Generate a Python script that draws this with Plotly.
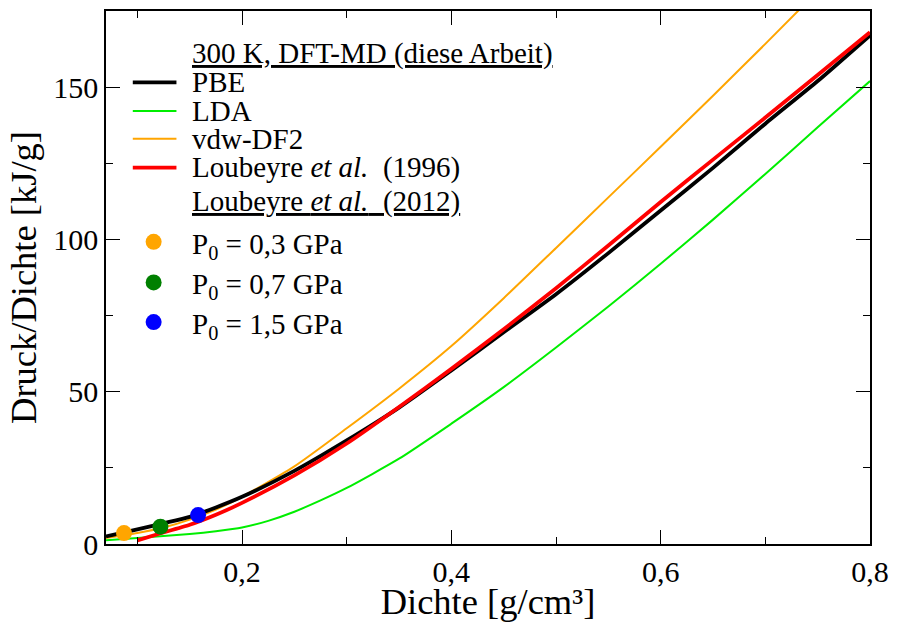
import plotly.graph_objects as go

# ---- data ----
pbe_x = [0.07, 0.1, 0.125, 0.15, 0.175, 0.2, 0.25, 0.3, 0.35, 0.4, 0.45, 0.5, 0.55, 0.6, 0.65, 0.7, 0.75, 0.8]
pbe_y = [2.5, 4.8, 6.8, 8.9, 12.0, 15.5, 24.0, 34.0, 44.8, 57.0, 69.5, 82.0, 95.5, 109.5, 123.5, 138.0, 152.0, 167.0]

lda_x = [0.07, 0.1, 0.15, 0.175, 0.2, 0.225, 0.25, 0.275, 0.3, 0.35, 0.4, 0.45, 0.5, 0.55, 0.6, 0.65, 0.7, 0.75, 0.8]
lda_y = [1.2, 2.0, 3.3, 4.2, 5.4, 7.6, 10.6, 14.3, 18.4, 28.0, 39.5, 51.5, 64.5, 78.0, 92.0, 106.5, 121.5, 136.8, 152.0]

vdw_x = [0.07, 0.1, 0.125, 0.15, 0.175, 0.2, 0.25, 0.3, 0.35, 0.4, 0.45, 0.5, 0.55, 0.6, 0.65, 0.7, 0.75]
vdw_y = [2.0, 3.6, 5.4, 8.0, 11.3, 15.5, 25.5, 38.0, 51.0, 65.0, 80.7, 97.2, 113.8, 130.4, 147.2, 164.2, 181.5]

lou96_x = [0.1, 0.12, 0.15, 0.175, 0.2, 0.25, 0.3, 0.35, 0.4, 0.45, 0.5, 0.55, 0.6, 0.65, 0.7, 0.75, 0.8]
lou96_y = [1.2, 3.3, 6.3, 9.6, 13.5, 22.5, 33.0, 45.0, 57.5, 70.5, 84.0, 98.0, 112.3, 126.2, 140.0, 154.0, 168.0]

pts_x = [0.0872, 0.122, 0.158]
pts_y = [3.6, 5.7, 9.5]
pts_labels = ["P<sub>0</sub> = 0,3 GPa", "P<sub>0</sub> = 0,7 GPa", "P<sub>0</sub> = 1,5 GPa"]
pts_colors = ["#ffa500", "#008000", "#0000ff"]

x_ticks = [0.2, 0.4, 0.6, 0.8]
x_ticktext = ["0,2", "0,4", "0,6", "0,8"]
y_ticks = [0, 50, 100, 150]
y_ticktext = ["0", "50", "100", "150"]

line_names = ["PBE", "LDA", "vdw-DF2", "Loubeyre <i>et al.</i>  (1996)"]
line_colors = ["#000000", "#00ee00", "#ffa500", "#ff0000"]
line_widths = [3.8, 2, 2, 3.8]

FONT = "Liberation Serif"
LEG_SIZE = 29

fig = go.Figure()
series = [(pbe_x, pbe_y), (lda_x, lda_y), (vdw_x, vdw_y), (lou96_x, lou96_y)]
order = [1, 2, 0, 3]
for i in order:
    xs, ys = series[i]
    fig.add_trace(go.Scatter(x=xs, y=ys, mode="lines", name=line_names[i],
                             line=dict(color=line_colors[i], width=line_widths[i], shape="spline", smoothing=0.6),
                             showlegend=False))
for i in range(len(pts_x)):
    fig.add_trace(go.Scatter(x=[pts_x[i]], y=[pts_y[i]], mode="markers", name=pts_labels[i],
                             marker=dict(color=pts_colors[i], size=16, line=dict(width=0)),
                             showlegend=False))

# ---- plot area geometry (pixels) ----
W, H = 898, 622
L, R, T, B = 106, 22, 9, 75
pw, ph = W - L - R, H - T - B

def px(x):
    return (x - L) / pw

def py(y):
    return (H - B - y) / ph

annotations = []
shapes = []
text_x = px(191)
annotations.append(dict(x=text_x, y=py(52), xref="paper", yref="paper", xanchor="left", yanchor="middle",
                        text="<u>300 K, DFT-MD (diese Arbeit)</u>", showarrow=False,
                        font=dict(family=FONT, size=LEG_SIZE, color="black")))
row_y = [81, 110, 138, 167]
for k in range(4):
    shapes.append(dict(type="line", xref="paper", yref="paper", x0=px(133), x1=px(177),
                       y0=py(row_y[k]), y1=py(row_y[k]),
                       line=dict(color=line_colors[k], width=line_widths[k])))
    annotations.append(dict(x=text_x, y=py(row_y[k]), xref="paper", yref="paper", xanchor="left",
                            yanchor="middle", text=line_names[k], showarrow=False,
                            font=dict(family=FONT, size=LEG_SIZE, color="black")))
annotations.append(dict(x=text_x, y=py(201), xref="paper", yref="paper", xanchor="left", yanchor="middle",
                        text="<u>Loubeyre <i>et al.</i>  (2012)</u>", showarrow=False,
                        font=dict(family=FONT, size=LEG_SIZE, color="black")))
pt_row_y = [242, 283, 323]
for k in range(3):
    fig.add_trace(go.Scatter(x=[px(154)], y=[py(pt_row_y[k])], xaxis="x2", yaxis="y2", mode="markers",
                             marker=dict(color=pts_colors[k], size=16), showlegend=False, hoverinfo="skip"))
    annotations.append(dict(x=text_x, y=py(pt_row_y[k] + 4), xref="paper", yref="paper", xanchor="left",
                            yanchor="middle", text=pts_labels[k], showarrow=False,
                            font=dict(family=FONT, size=LEG_SIZE, color="black")))

axis_common = dict(showgrid=False, zeroline=False, showline=True, linecolor="black", linewidth=1.5,
                   mirror="allticks", ticks="inside", ticklen=14, tickwidth=1.2, tickcolor="black",
                   tickfont=dict(family=FONT, size=30, color="black"))

fig.update_layout(
    width=W, height=H,
    margin=dict(l=L, r=R, t=T, b=B),
    paper_bgcolor="white", plot_bgcolor="white",
    showlegend=False,
    xaxis=dict(range=[0.07, 0.8], tickvals=x_ticks, ticktext=x_ticktext,
               minor=dict(dtick=0.1, tick0=0, ticks="inside", ticklen=7, tickwidth=1.2, tickcolor="black"),
               title=dict(text="Dichte [g/cm³]", font=dict(family=FONT, size=36.5, color="black"), standoff=0),
               **axis_common),
    yaxis=dict(range=[0, 175], tickvals=y_ticks, ticktext=y_ticktext,
               minor=dict(dtick=25, tick0=0, ticks="inside", ticklen=7, tickwidth=1.2, tickcolor="black"),
               title=dict(text="Druck/Dichte [kJ/g]", font=dict(family=FONT, size=36.5, color="black"), standoff=5),
               **axis_common),
    xaxis2=dict(range=[0, 1], overlaying="x", visible=False, anchor="y2"),
    yaxis2=dict(range=[0, 1], overlaying="y", visible=False, anchor="x2"),
    annotations=annotations,
    shapes=shapes,
)

fig.write_html("out.html")
